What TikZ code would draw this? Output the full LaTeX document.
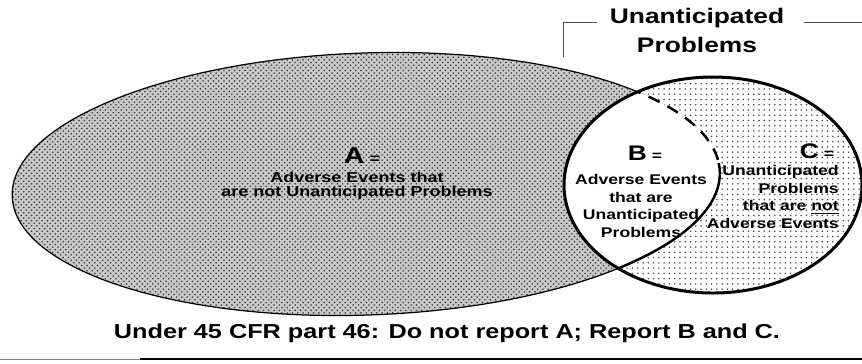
\documentclass[tikz,border=0pt]{standalone}
\usepackage{fontspec}
\setmainfont[FakeStretch=1.25]{Liberation Sans}
\usetikzlibrary{patterns}

\begin{document}
\begin{tikzpicture}[x=0.02cm,y=-0.02cm,
	labA/.style={inner sep=0pt,align=center,font=\bfseries\fontsize{8.2}{8}\selectfont},
	labB/.style={inner sep=0pt,align=center,font=\bfseries\fontsize{8}{10.2}\selectfont},
	labC/.style={inner sep=0pt,align=right,font=\bfseries\fontsize{8}{10}\selectfont},
	head/.style={inner sep=0pt,font=\bfseries\fontsize{12}{14}\selectfont},
	rule/.style={line width=0.5pt,black!70}]
	
	\useasboundingbox (0,0) rectangle (862,363);
	
	\def\setA{(366,184) ellipse [x radius=354,y radius=131,rotate=2]}
	\def\setC{(713,185) ellipse [x radius=149,y radius=108]}
	
	\fill[gray!42] \setA;
	\fill[pattern=crosshatch dots,pattern color=black!80] \setA;
	\fill[pattern=dots,pattern color=black!70] \setC;
	\begin{scope}
		\clip \setA;
		\fill[white] \setC;
	\end{scope}
	
	\begin{scope}[even odd rule]
		\clip (0,0) rectangle (862,363) \setC;
		\draw[line width=0.7pt] \setA;
	\end{scope}
	\begin{scope}
		\clip \setC;
		\clip (560,60) rectangle (760,163);
		\draw[line width=1.4pt,dash pattern=on 7pt off 5pt] \setA;
	\end{scope}
	\begin{scope}
		\clip \setC;
		\clip (560,163) rectangle (760,300);
		\draw[line width=1.4pt] \setA;
	\end{scope}
	\draw[line width=1.7pt] \setC;
	
	\node[labA] (aeq) at (362,156) {{\fontsize{13}{13}\selectfont A} =};
	\node[labA] (atx) at (357,186) {Adverse Events that\\are not Unanticipated Problems};
	
	\node[labB] (beq) at (645,153) {{\fontsize{12}{12}\selectfont B} =};
	\node[labB] (btx) at (641,206) {Adverse Events\\that are\\Unanticipated\\Problems};
	
	\node[labB] (ceq) at (817,151) {{\fontsize{12}{12}\selectfont C} =};
	\node[labC,anchor=east] (ctx) at (839,197) {Unanticipated\\Problems\\that are \underline{not}\\Adverse Events};
	
	\node[head] (up1) at (697,18) {Unanticipated};
	\node[head] (up2) at (697,45) {Problems};
	\coordinate (brk) at (563,57);
	\coordinate (rgt) at (862,22);
	\draw[rule] (brk) |- ([xshift=-7pt]up1.west |- rgt);
	\draw[rule] ([xshift=11pt]up1.east |- rgt) -- (rgt);
	
	\node[head,font=\bfseries\fontsize{11.5}{14}\selectfont] (foot) at (447,333) {Under 45 CFR part 46: Do not report A; Report B and C.};
	\coordinate (ln0) at (0,359);
	\coordinate (ln1) at (140,359);
	\coordinate (ln2) at (862,359);
	\draw[rule,black!50] (ln0) -- (ln1);
	\draw[line width=0.8pt] (ln1) -- (ln2);
\end{tikzpicture}
\end{document}
